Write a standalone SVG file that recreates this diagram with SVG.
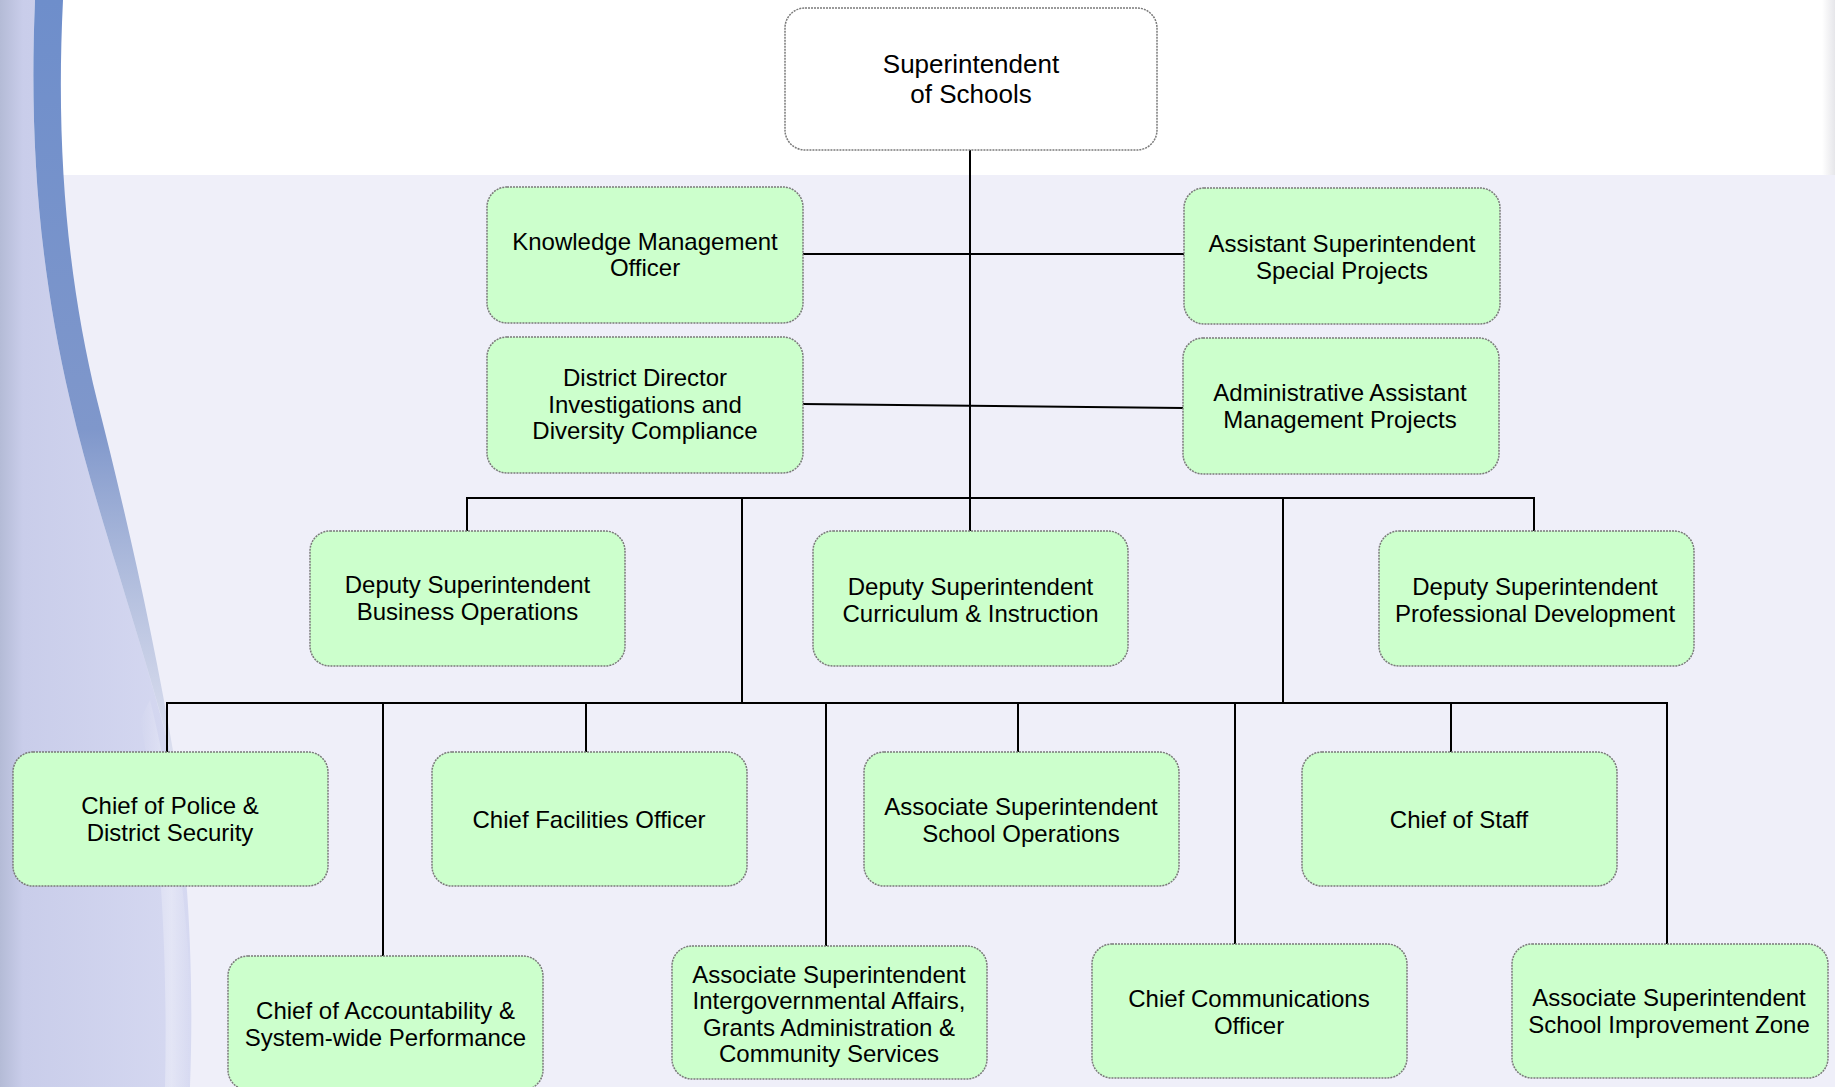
<svg xmlns="http://www.w3.org/2000/svg" width="1835" height="1087" viewBox="0 0 1835 1087">
<defs>
<linearGradient id="swoosh" x1="0" y1="0" x2="1" y2="0">
<stop offset="0" stop-color="#B4BBD6"/>
<stop offset="0.12" stop-color="#C9CDEA"/>
<stop offset="1" stop-color="#D6D9F1"/>
</linearGradient>
<linearGradient id="stripe" x1="0" y1="0" x2="0" y2="1">
<stop offset="0" stop-color="#6E8ECB" stop-opacity="1"/>
<stop offset="0.55" stop-color="#7F97CB" stop-opacity="1"/>
<stop offset="1" stop-color="#A8B4D4" stop-opacity="0.2"/>
</linearGradient>
<linearGradient id="edge" x1="0" y1="0" x2="1" y2="0">
<stop offset="0" stop-color="#FFFFFF"/>
<stop offset="1" stop-color="#E6E6EA"/>
</linearGradient>
<linearGradient id="glow" x1="0" y1="0" x2="1" y2="0">
<stop offset="0" stop-color="#FFFFFF" stop-opacity="0"/>
<stop offset="0.6" stop-color="#FFFFFF" stop-opacity="0.35"/>
<stop offset="1" stop-color="#FFFFFF" stop-opacity="0"/>
</linearGradient>
</defs>
<style>
.box{fill:#CCFFCC;stroke:#7A7A7A;stroke-width:1.5;stroke-dasharray:2 1;}
.top{fill:#FFFFFF;stroke:#7A7A7A;stroke-width:1.5;stroke-dasharray:2 1;}
.t{font-family:"Liberation Sans",Arial,sans-serif;font-size:24px;fill:#000;text-anchor:middle;}
.tt{font-family:"Liberation Sans",Arial,sans-serif;font-size:26px;fill:#000;text-anchor:middle;}
.c{stroke:#000;stroke-width:2;fill:none;}
</style>
<g id="background">
<rect x="0" y="0" width="1835" height="1087" fill="#EFEFF9"/>
<rect x="0" y="0" width="1835" height="175" fill="#FFFFFF"/>
<rect x="1822" y="0" width="13" height="175" fill="url(#edge)"/>
<path d="M0,0 L35,0 C30,120 35,250 70,400 C95,510 140,630 175,770 C185,850 195,950 190,1087 L0,1087 Z" fill="url(#swoosh)"/>
<path d="M150,700 C175,800 195,950 192,1087 L165,1087 C168,950 160,820 140,720 Z" fill="url(#glow)"/>
<path d="M35,0 C30,120 35,250 70,400 C95,510 140,630 178,780 C155,640 125,510 97,400 C70,290 55,160 63,0 Z" fill="url(#stripe)"/>
</g>
<g id="connectors">
<line class="c" x1="970" y1="150" x2="970" y2="531"/>
<line class="c" x1="803" y1="254" x2="1184" y2="254"/>
<line class="c" x1="803" y1="404" x2="1183" y2="408"/>
<line class="c" x1="466" y1="498" x2="1535" y2="498"/>
<line class="c" x1="467" y1="498" x2="467" y2="531"/>
<line class="c" x1="1534" y1="498" x2="1534" y2="531"/>
<line class="c" x1="742" y1="498" x2="742" y2="703"/>
<line class="c" x1="1283" y1="498" x2="1283" y2="703"/>
<line class="c" x1="166" y1="703" x2="1668" y2="703"/>
<line class="c" x1="167" y1="703" x2="167" y2="752"/>
<line class="c" x1="383" y1="703" x2="383" y2="956"/>
<line class="c" x1="586" y1="703" x2="586" y2="752"/>
<line class="c" x1="826" y1="703" x2="826" y2="946"/>
<line class="c" x1="1018" y1="703" x2="1018" y2="752"/>
<line class="c" x1="1235" y1="703" x2="1235" y2="944"/>
<line class="c" x1="1451" y1="703" x2="1451" y2="752"/>
<line class="c" x1="1667" y1="703" x2="1667" y2="944"/>
</g>
<g id="superintendent">
<rect class="top" x="785" y="8" width="372" height="142" rx="20"/>
<text class="tt" x="971" y="73">Superintendent</text>
<text class="tt" x="971" y="103">of Schools</text>
</g>
<g id="knowledge-management">
<rect class="box" x="487" y="187" width="316" height="136" rx="20"/>
<text class="t" x="645" y="250">Knowledge Management</text>
<text class="t" x="645" y="276">Officer</text>
</g>
<g id="district-director">
<rect class="box" x="487" y="337" width="316" height="136" rx="20"/>
<text class="t" x="645" y="386">District Director</text>
<text class="t" x="645" y="412.5">Investigations and</text>
<text class="t" x="645" y="439">Diversity Compliance</text>
</g>
<g id="assistant-superintendent">
<rect class="box" x="1184" y="188" width="316" height="136" rx="20"/>
<text class="t" x="1342" y="252">Assistant Superintendent</text>
<text class="t" x="1342" y="278.5">Special Projects</text>
</g>
<g id="administrative-assistant">
<rect class="box" x="1183" y="338" width="316" height="136" rx="20"/>
<text class="t" x="1340" y="401">Administrative Assistant</text>
<text class="t" x="1340" y="427.5">Management Projects</text>
</g>
<g id="deputy-business">
<rect class="box" x="310" y="531" width="315" height="135" rx="20"/>
<text class="t" x="467.5" y="593">Deputy Superintendent</text>
<text class="t" x="467.5" y="619.5">Business Operations</text>
</g>
<g id="deputy-curriculum">
<rect class="box" x="813" y="531" width="315" height="135" rx="20"/>
<text class="t" x="970.5" y="595">Deputy Superintendent</text>
<text class="t" x="970.5" y="621.5">Curriculum &amp; Instruction</text>
</g>
<g id="deputy-professional">
<rect class="box" x="1379" y="531" width="315" height="135" rx="20"/>
<text class="t" x="1535" y="595">Deputy Superintendent</text>
<text class="t" x="1535" y="621.5">Professional Development</text>
</g>
<g id="chief-police">
<rect class="box" x="13" y="752" width="315" height="134" rx="20"/>
<text class="t" x="170" y="814">Chief of Police &amp;</text>
<text class="t" x="170" y="841">District Security</text>
</g>
<g id="chief-facilities">
<rect class="box" x="432" y="752" width="315" height="134" rx="20"/>
<text class="t" x="589" y="828">Chief Facilities Officer</text>
</g>
<g id="associate-school-operations">
<rect class="box" x="864" y="752" width="315" height="134" rx="20"/>
<text class="t" x="1021" y="815">Associate Superintendent</text>
<text class="t" x="1021" y="842">School Operations</text>
</g>
<g id="chief-of-staff">
<rect class="box" x="1302" y="752" width="315" height="134" rx="20"/>
<text class="t" x="1459" y="828">Chief of Staff</text>
</g>
<g id="chief-accountability">
<rect class="box" x="228" y="956" width="315" height="134" rx="20"/>
<text class="t" x="385.5" y="1018.5">Chief of Accountability &amp;</text>
<text class="t" x="385.5" y="1045.5">System-wide Performance</text>
</g>
<g id="associate-intergovernmental">
<rect class="box" x="672" y="946" width="315" height="133" rx="20"/>
<text class="t" x="829" y="983">Associate Superintendent</text>
<text class="t" x="829" y="1009">Intergovernmental Affairs,</text>
<text class="t" x="829" y="1035.5">Grants Administration &amp;</text>
<text class="t" x="829" y="1062">Community Services</text>
</g>
<g id="chief-communications">
<rect class="box" x="1092" y="944" width="315" height="134" rx="20"/>
<text class="t" x="1249" y="1006.5">Chief Communications</text>
<text class="t" x="1249" y="1033.5">Officer</text>
</g>
<g id="associate-improvement-zone">
<rect class="box" x="1512" y="944" width="316" height="134" rx="20"/>
<text class="t" x="1669" y="1006">Associate Superintendent</text>
<text class="t" x="1669" y="1033">School Improvement Zone</text>
</g>
</svg>
